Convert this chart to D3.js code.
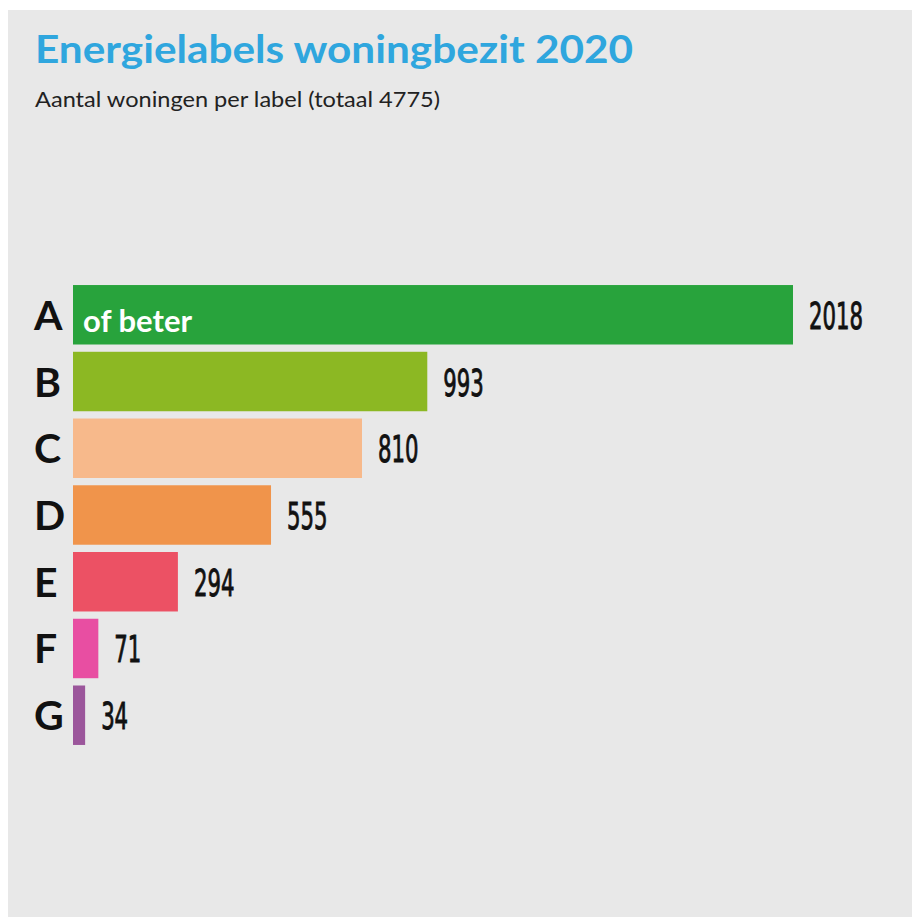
<!DOCTYPE html>
<html><head><meta charset="utf-8">
<script src="https://cdn.jsdelivr.net/npm/d3@7"></script>
<style>
html,body{margin:0;padding:0;background:#fff;}
svg{display:block;}
</style></head>
<body>
<svg id="c" width="912" height="917"></svg>
<script>
const categories = ["A","B","C","D","E","F","G"];
const values = [2018, 993, 810, 555, 294, 71, 34];
const colors = ["#28a33c","#8cb823","#f7b98b","#f0944b","#ec5164","#e84ea2","#9b569b"];
const titleText = "Energielabels woningbezit 2020";
const subtitleText = "Aantal woningen per label (totaal 4775)";
const insideLabel = "of beter";

const svg = d3.select("#c");
svg.append("rect").attr("x",8).attr("y",10).attr("width",904).attr("height",907).attr("fill","#e8e8e8");

svg.append("text").attr("x",35).attr("y",63)
  .attr("font-family","Lato, 'Open Sans', sans-serif").attr("font-weight",700)
  .attr("font-size",39).attr("fill","#2fa6de")
  .attr("textLength",598).attr("lengthAdjust","spacingAndGlyphs").text(titleText);
svg.append("text").attr("x",35).attr("y",107)
  .attr("font-family","Lato, 'Open Sans', sans-serif").attr("font-weight",400)
  .attr("font-size",22).attr("fill","#222")
  .attr("textLength",405).attr("lengthAdjust","spacingAndGlyphs").text(subtitleText);

const x = d3.scaleLinear().domain([0, d3.max(values)]).range([73, 793]);
const y = d3.scaleBand().domain(categories).range([281.4, 748.6]).paddingInner(0.109).paddingOuter(0.0545);

const data = categories.map((c,i)=>({c, v: values[i], col: colors[i]}));

svg.selectAll("rect.bar").data(data).join("rect").attr("class","bar")
  .attr("x", x(0)).attr("y", d=>y(d.c)).attr("width", d=>x(d.v)-x(0)).attr("height", y.bandwidth())
  .attr("fill", d=>d.col);

svg.selectAll("text.cat").data(data).join("text").attr("class","cat")
  .attr("x", 34).attr("y", d=>y(d.c)+y.bandwidth()/2+15)
  .attr("font-family","Lato, sans-serif").attr("font-weight",700).attr("font-size",41)
  .attr("fill","#111").text(d=>d.c);

svg.selectAll("text.val").data(data).join("text").attr("class","val")
  .attr("x", d=>x(d.v)+16).attr("y", d=>y(d.c)+y.bandwidth()/2+14)
  .attr("font-family","'Liberation Sans Narrow', 'DejaVu Sans Condensed', sans-serif").attr("font-weight",400)
  .attr("font-size",38).attr("fill","#111").attr("stroke","#111").attr("stroke-width",0.9)
  .attr("textLength", d=>String(d.v).length*13.5).attr("lengthAdjust","spacingAndGlyphs")
  .text(d=>d.v);

svg.append("text").attr("x", x(0)+10).attr("y", y("A")+y.bandwidth()/2+17)
  .attr("font-family","Lato, sans-serif").attr("font-weight",700).attr("font-size",31)
  .attr("fill","#fff").text(insideLabel);
</script>
</body></html>
